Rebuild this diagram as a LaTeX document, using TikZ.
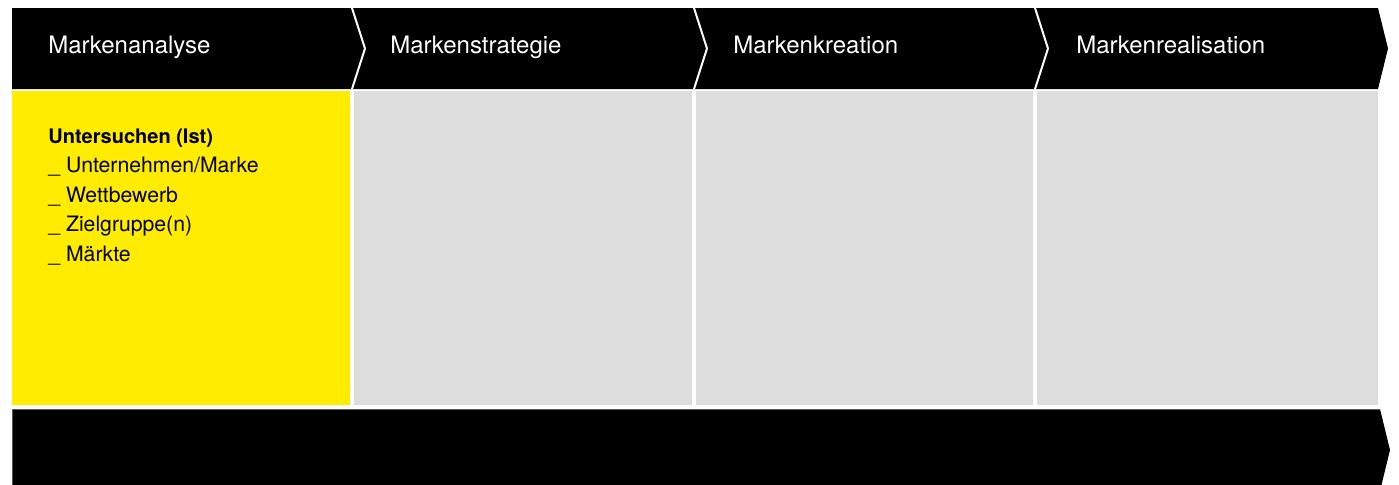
\documentclass[tikz,border=0pt]{standalone}
\usepackage{fontspec}
\setmainfont{TeX Gyre Heros}
\definecolor{markyellow}{RGB}{255,236,0}
\definecolor{panelgrey}{RGB}{220,221,220}
\definecolor{edgegrey}{RGB}{90,90,90}
\begin{document}
\begin{tikzpicture}[x=0.5pt,y=-0.5pt,
  stagelabel/.style={anchor=base west,inner sep=0pt,text=white,font=\fontsize{12}{14}\selectfont},
  itemlabel/.style={anchor=base west,inner sep=0pt,text=black,font=\fontsize{10.6}{12}\selectfont},
  sepline/.style={draw=white,line width=1pt,line join=miter},
  panel/.style={fill=panelgrey,draw=none}]
\useasboundingbox (0,0) rectangle (1399,484);
% top process bar
\fill[black] (12,8) -- (1378,8) -- (1388,48.5) -- (1378,89) -- (12,89) -- cycle;
\draw[sepline] (352,8) -- (365,48.5) -- (352,89);
\draw[sepline] (694,8) -- (707,48.5) -- (694,89);
\draw[sepline] (1035,8) -- (1048,48.5) -- (1035,89);
% panels
\fill[markyellow] (12,91) rectangle (350,405);
\fill[panelgrey] (354,91) rectangle (692,405);
\fill[panelgrey] (696,91) rectangle (1033,405);
\fill[panelgrey] (1037,91) rectangle (1378,405);
% bottom bar
\begin{scope}
\clip (0,0) rectangle (1399,484);
\fill[black] (12,409) -- (1380,409) -- (1390,450) -- (1380,491) -- (12,491) -- cycle;
\draw[edgegrey,line width=0.5pt] (12,491) -- (12,409) -- (1380,409);
\end{scope}
% labels
\node[stagelabel] (s1) at (48,53) {Markenanalyse};
\node[stagelabel] (s2) at (390,53) {Markenstrategie};
\node[stagelabel] (s3) at (733,53) {Markenkreation};
\node[stagelabel] (s4) at (1076,53) {Markenrealisation};
\node[itemlabel,font=\fontsize{10}{12}\selectfont\bfseries] (i0) at (48,143) {Untersuchen (Ist)};
\node[itemlabel] (i1) at (48,172.5) {\_ Unternehmen/Marke};
\node[itemlabel] (i2) at (48,202) {\_ Wettbewerb};
\node[itemlabel] (i3) at (48,231.5) {\_ Zielgruppe(n)};
\node[itemlabel] (i4) at (48,261) {\_ Märkte};
\end{tikzpicture}
\end{document}
